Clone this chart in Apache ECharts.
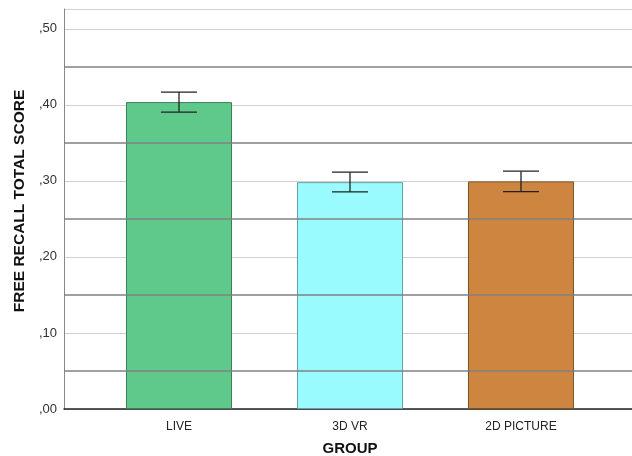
<!DOCTYPE html>
<html><head><meta charset="utf-8">
<script src="https://cdn.jsdelivr.net/npm/echarts@6/dist/echarts.min.js"></script>
<style>html,body{margin:0;padding:0;background:#fff}#c{width:632px;height:456px}</style>
</head><body><div id="c"></div>
<script>
const categories = ['LIVE', '3D VR', '2D PICTURE'];
const means = [0.4036, 0.2983, 0.2993];
const errLow = [0.3904, 0.2855, 0.2858];
const errHigh = [0.4167, 0.3114, 0.3127];
const majorTicks = [0, 0.1, 0.2, 0.3, 0.4, 0.5];
const minorLines = [0.05, 0.15, 0.25, 0.35, 0.45];
const colors = ['#5ec98a', '#99fbfe', '#cd853f'];
const borders = ['#3d7f58', '#6a9fa1', '#7d5226'];

const yMax = 0.526;
const chart = echarts.init(document.getElementById('c'));
const fmt = v => ',' + v.toFixed(2).split('.')[1];
chart.setOption({
  animation: false,
  textStyle: {fontFamily: 'Liberation Sans, Arial, sans-serif'},
  grid: [
    {left: 64, right: 0, top: 9, bottom: 47, containLabel: false, outerBoundsMode: 'none'},
    {left: 93.5, width: 513, top: 9, bottom: 47, containLabel: false, outerBoundsMode: 'none'}
  ],
  xAxis: [
    {gridIndex: 0, type: 'value', min: 0, max: 1, show: true,
     axisLine: {show: true, onZero: false, lineStyle: {color: '#222', width: 1.5}},
     axisTick: {show: false}, axisLabel: {show: false}, splitLine: {show: false}},
    {gridIndex: 1, type: 'category', data: categories,
     axisLine: {show: false, onZero: false}, axisTick: {show: false},
     axisLabel: {color: '#222', fontSize: 12, margin: 12},
     name: 'GROUP', nameLocation: 'middle', nameGap: 32,
     nameTextStyle: {fontWeight: 'bold', fontSize: 15, color: '#111'}}
  ],
  yAxis: [
    {gridIndex: 0, type: 'value', min: 0, max: yMax, interval: 0.1,
     axisLine: {show: true, lineStyle: {color: '#888'}},
     axisTick: {show: false},
     axisLabel: {color: '#333', fontSize: 13, margin: 7, showMaxLabel: false,
       formatter: v => majorTicks.some(t => Math.abs(t - v) < 1e-6) ? fmt(v) : ''},
     splitLine: {show: true, lineStyle: {color: '#cfcfcf', width: 1.2}},
     name: 'FREE RECALL TOTAL SCORE', nameLocation: 'middle', nameGap: 36,
     nameTextStyle: {fontWeight: 'bold', fontSize: 15.5, color: '#111', padding: [0, 0, 0, 16]}},
    {gridIndex: 1, type: 'value', min: 0, max: yMax, show: false}
  ],
  series: [
    {type: 'line', xAxisIndex: 0, yAxisIndex: 0, data: [], silent: true,
     markLine: {symbol: 'none', silent: true, label: {show: false},
       lineStyle: {color: '#808080', width: 1.7, type: 'solid'},
       data: minorLines.map(v => ({yAxis: v}))}},
    {type: 'bar', xAxisIndex: 1, yAxisIndex: 1, barWidth: 106,
     data: means.map((v, i) => ({value: v, itemStyle: {color: colors[i], borderColor: borders[i], borderWidth: 1}}))},
    {type: 'custom', xAxisIndex: 1, yAxisIndex: 1, z: 10,
     data: categories.map((c, i) => [i, errLow[i], errHigh[i]]),
     renderItem: (params, api) => {
       const lo = api.coord([api.value(0), api.value(1)]);
       const hi = api.coord([api.value(0), api.value(2)]);
       const hw = 18;
       const st = {stroke: '#222', lineWidth: 1.3};
       return {type: 'group', children: [
         {type: 'line', shape: {x1: hi[0], y1: hi[1], x2: lo[0], y2: lo[1]}, style: st},
         {type: 'line', shape: {x1: hi[0]-hw, y1: hi[1], x2: hi[0]+hw, y2: hi[1]}, style: st},
         {type: 'line', shape: {x1: lo[0]-hw, y1: lo[1], x2: lo[0]+hw, y2: lo[1]}, style: st}
       ]};
     }}
  ]
});
</script></body></html>
